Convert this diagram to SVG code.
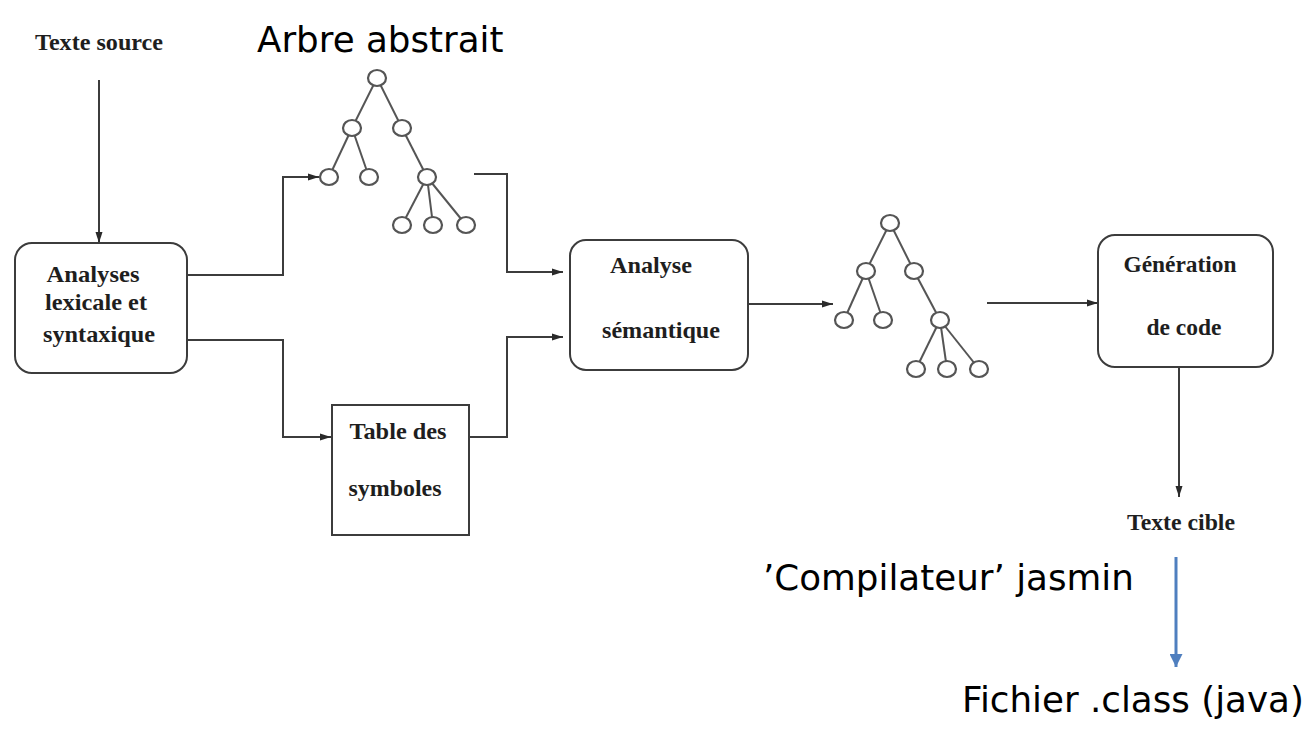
<svg xmlns="http://www.w3.org/2000/svg" width="1305" height="735" viewBox="0 0 1305 735">
<style>
.box{fill:#fff;stroke:#3c3c3c;stroke-width:2}
.lbl{font-family:"Liberation Serif","Times New Roman",serif;font-weight:bold;font-size:24px;fill:#1e1e1e;text-anchor:middle}
.big{font-family:"DejaVu Sans",Verdana,sans-serif;font-size:35.7px;fill:#000}
.conn{fill:none;stroke:#3c3c3c;stroke-width:2}
.blue{fill:none;stroke:#4f7fbf;stroke-width:3}
.edge{stroke:#555;stroke-width:2}
.tn{fill:#fff;stroke:#555;stroke-width:2.2}
</style>
<defs>
<marker id="ah" markerUnits="userSpaceOnUse" markerWidth="11" markerHeight="8" refX="11" refY="4" orient="auto">
<path d="M0,0.5 L11,4 L0,7.5 z" fill="#2a2a2a"/>
</marker>
<marker id="ahb" markerUnits="userSpaceOnUse" markerWidth="13" markerHeight="13" refX="13" refY="6.5" orient="auto">
<path d="M0,0 L13,6.5 L0,13 z" fill="#4f7fbf"/>
</marker>
</defs>
<rect width="1305" height="735" fill="#fff"/>

<g id="connectors">
<path class="conn" d="M99,80 V243" marker-end="url(#ah)"/>
<path class="conn" d="M187,275 H283 V177 H319" marker-end="url(#ah)"/>
<path class="conn" d="M187,340 H283 V437 H331" marker-end="url(#ah)"/>
<path class="conn" d="M474,174 H507 V272 H563" marker-end="url(#ah)"/>
<path class="conn" d="M469,437 H507 V337 H563" marker-end="url(#ah)"/>
<path class="conn" d="M748,304 H833" marker-end="url(#ah)"/>
<path class="conn" d="M987,303 H1098" marker-end="url(#ah)"/>
<path class="conn" d="M1179,367 V497" marker-end="url(#ah)"/>
<path class="blue" d="M1176,557 V667" marker-end="url(#ahb)"/>
</g>

<g id="texte-source">
<text class="lbl" x="99" y="50" textLength="128" lengthAdjust="spacingAndGlyphs">Texte source</text>
</g>

<g id="arbre-abstrait-label">
<text class="big" x="257" y="52">Arbre abstrait</text>
</g>

<g id="analyses-lexicale">
<rect class="box" x="15" y="243" width="172" height="130" rx="17"/>
<text class="lbl" x="93" y="282" textLength="93" lengthAdjust="spacingAndGlyphs">Analyses</text>
<text class="lbl" x="96" y="310" textLength="102" lengthAdjust="spacingAndGlyphs">lexicale et</text>
<text class="lbl" x="99" y="342" textLength="112" lengthAdjust="spacingAndGlyphs">syntaxique</text>
</g>

<g id="arbre1">
<line class="edge" x1="377" y1="78" x2="352" y2="128"/>
<line class="edge" x1="377" y1="78" x2="402" y2="128"/>
<line class="edge" x1="352" y1="128" x2="329" y2="177"/>
<line class="edge" x1="352" y1="128" x2="369" y2="177"/>
<line class="edge" x1="402" y1="128" x2="427" y2="177"/>
<line class="edge" x1="427" y1="177" x2="402" y2="225"/>
<line class="edge" x1="427" y1="177" x2="433" y2="225"/>
<line class="edge" x1="427" y1="177" x2="466" y2="225"/>
<ellipse class="tn" cx="377" cy="78" rx="9" ry="8"/>
<ellipse class="tn" cx="352" cy="128" rx="9" ry="8"/>
<ellipse class="tn" cx="402" cy="128" rx="9" ry="8"/>
<ellipse class="tn" cx="329" cy="177" rx="9" ry="8"/>
<ellipse class="tn" cx="369" cy="177" rx="9" ry="8"/>
<ellipse class="tn" cx="427" cy="177" rx="9" ry="8"/>
<ellipse class="tn" cx="402" cy="225" rx="9" ry="8"/>
<ellipse class="tn" cx="433" cy="225" rx="9" ry="8"/>
<ellipse class="tn" cx="466" cy="225" rx="9" ry="8"/>
</g>

<g id="table-symboles">
<rect class="box" x="332" y="405" width="137" height="130"/>
<text class="lbl" x="398" y="439" textLength="97" lengthAdjust="spacingAndGlyphs">Table des</text>
<text class="lbl" x="395" y="496" textLength="93" lengthAdjust="spacingAndGlyphs">symboles</text>
</g>

<g id="analyse-semantique">
<rect class="box" x="570" y="240" width="178" height="130" rx="16"/>
<text class="lbl" x="651" y="273" textLength="82" lengthAdjust="spacingAndGlyphs">Analyse</text>
<text class="lbl" x="661" y="338" textLength="118" lengthAdjust="spacingAndGlyphs">sémantique</text>
</g>

<g id="arbre2">
<line class="edge" x1="890" y1="223" x2="866" y2="271"/>
<line class="edge" x1="890" y1="223" x2="914" y2="271"/>
<line class="edge" x1="866" y1="271" x2="844" y2="320"/>
<line class="edge" x1="866" y1="271" x2="883" y2="320"/>
<line class="edge" x1="914" y1="271" x2="940" y2="320"/>
<line class="edge" x1="940" y1="320" x2="916" y2="369"/>
<line class="edge" x1="940" y1="320" x2="947" y2="369"/>
<line class="edge" x1="940" y1="320" x2="979" y2="369"/>
<ellipse class="tn" cx="890" cy="223" rx="9" ry="8"/>
<ellipse class="tn" cx="866" cy="271" rx="9" ry="8"/>
<ellipse class="tn" cx="914" cy="271" rx="9" ry="8"/>
<ellipse class="tn" cx="844" cy="320" rx="9" ry="8"/>
<ellipse class="tn" cx="883" cy="320" rx="9" ry="8"/>
<ellipse class="tn" cx="940" cy="320" rx="9" ry="8"/>
<ellipse class="tn" cx="916" cy="369" rx="9" ry="8"/>
<ellipse class="tn" cx="947" cy="369" rx="9" ry="8"/>
<ellipse class="tn" cx="979" cy="369" rx="9" ry="8"/>
</g>

<g id="generation-code">
<rect class="box" x="1098" y="235" width="175" height="132" rx="17"/>
<text class="lbl" x="1180" y="272" textLength="113" lengthAdjust="spacingAndGlyphs">Génération</text>
<text class="lbl" x="1184" y="335" textLength="75" lengthAdjust="spacingAndGlyphs">de code</text>
</g>

<g id="texte-cible">
<text class="lbl" x="1181" y="530" textLength="108" lengthAdjust="spacingAndGlyphs">Texte cible</text>
</g>

<g id="compilateur-label">
<text class="big" x="763" y="590">’Compilateur’ jasmin</text>
</g>

<g id="fichier-class">
<text class="big" x="962" y="712">Fichier .class (java)</text>
</g>
</svg>
